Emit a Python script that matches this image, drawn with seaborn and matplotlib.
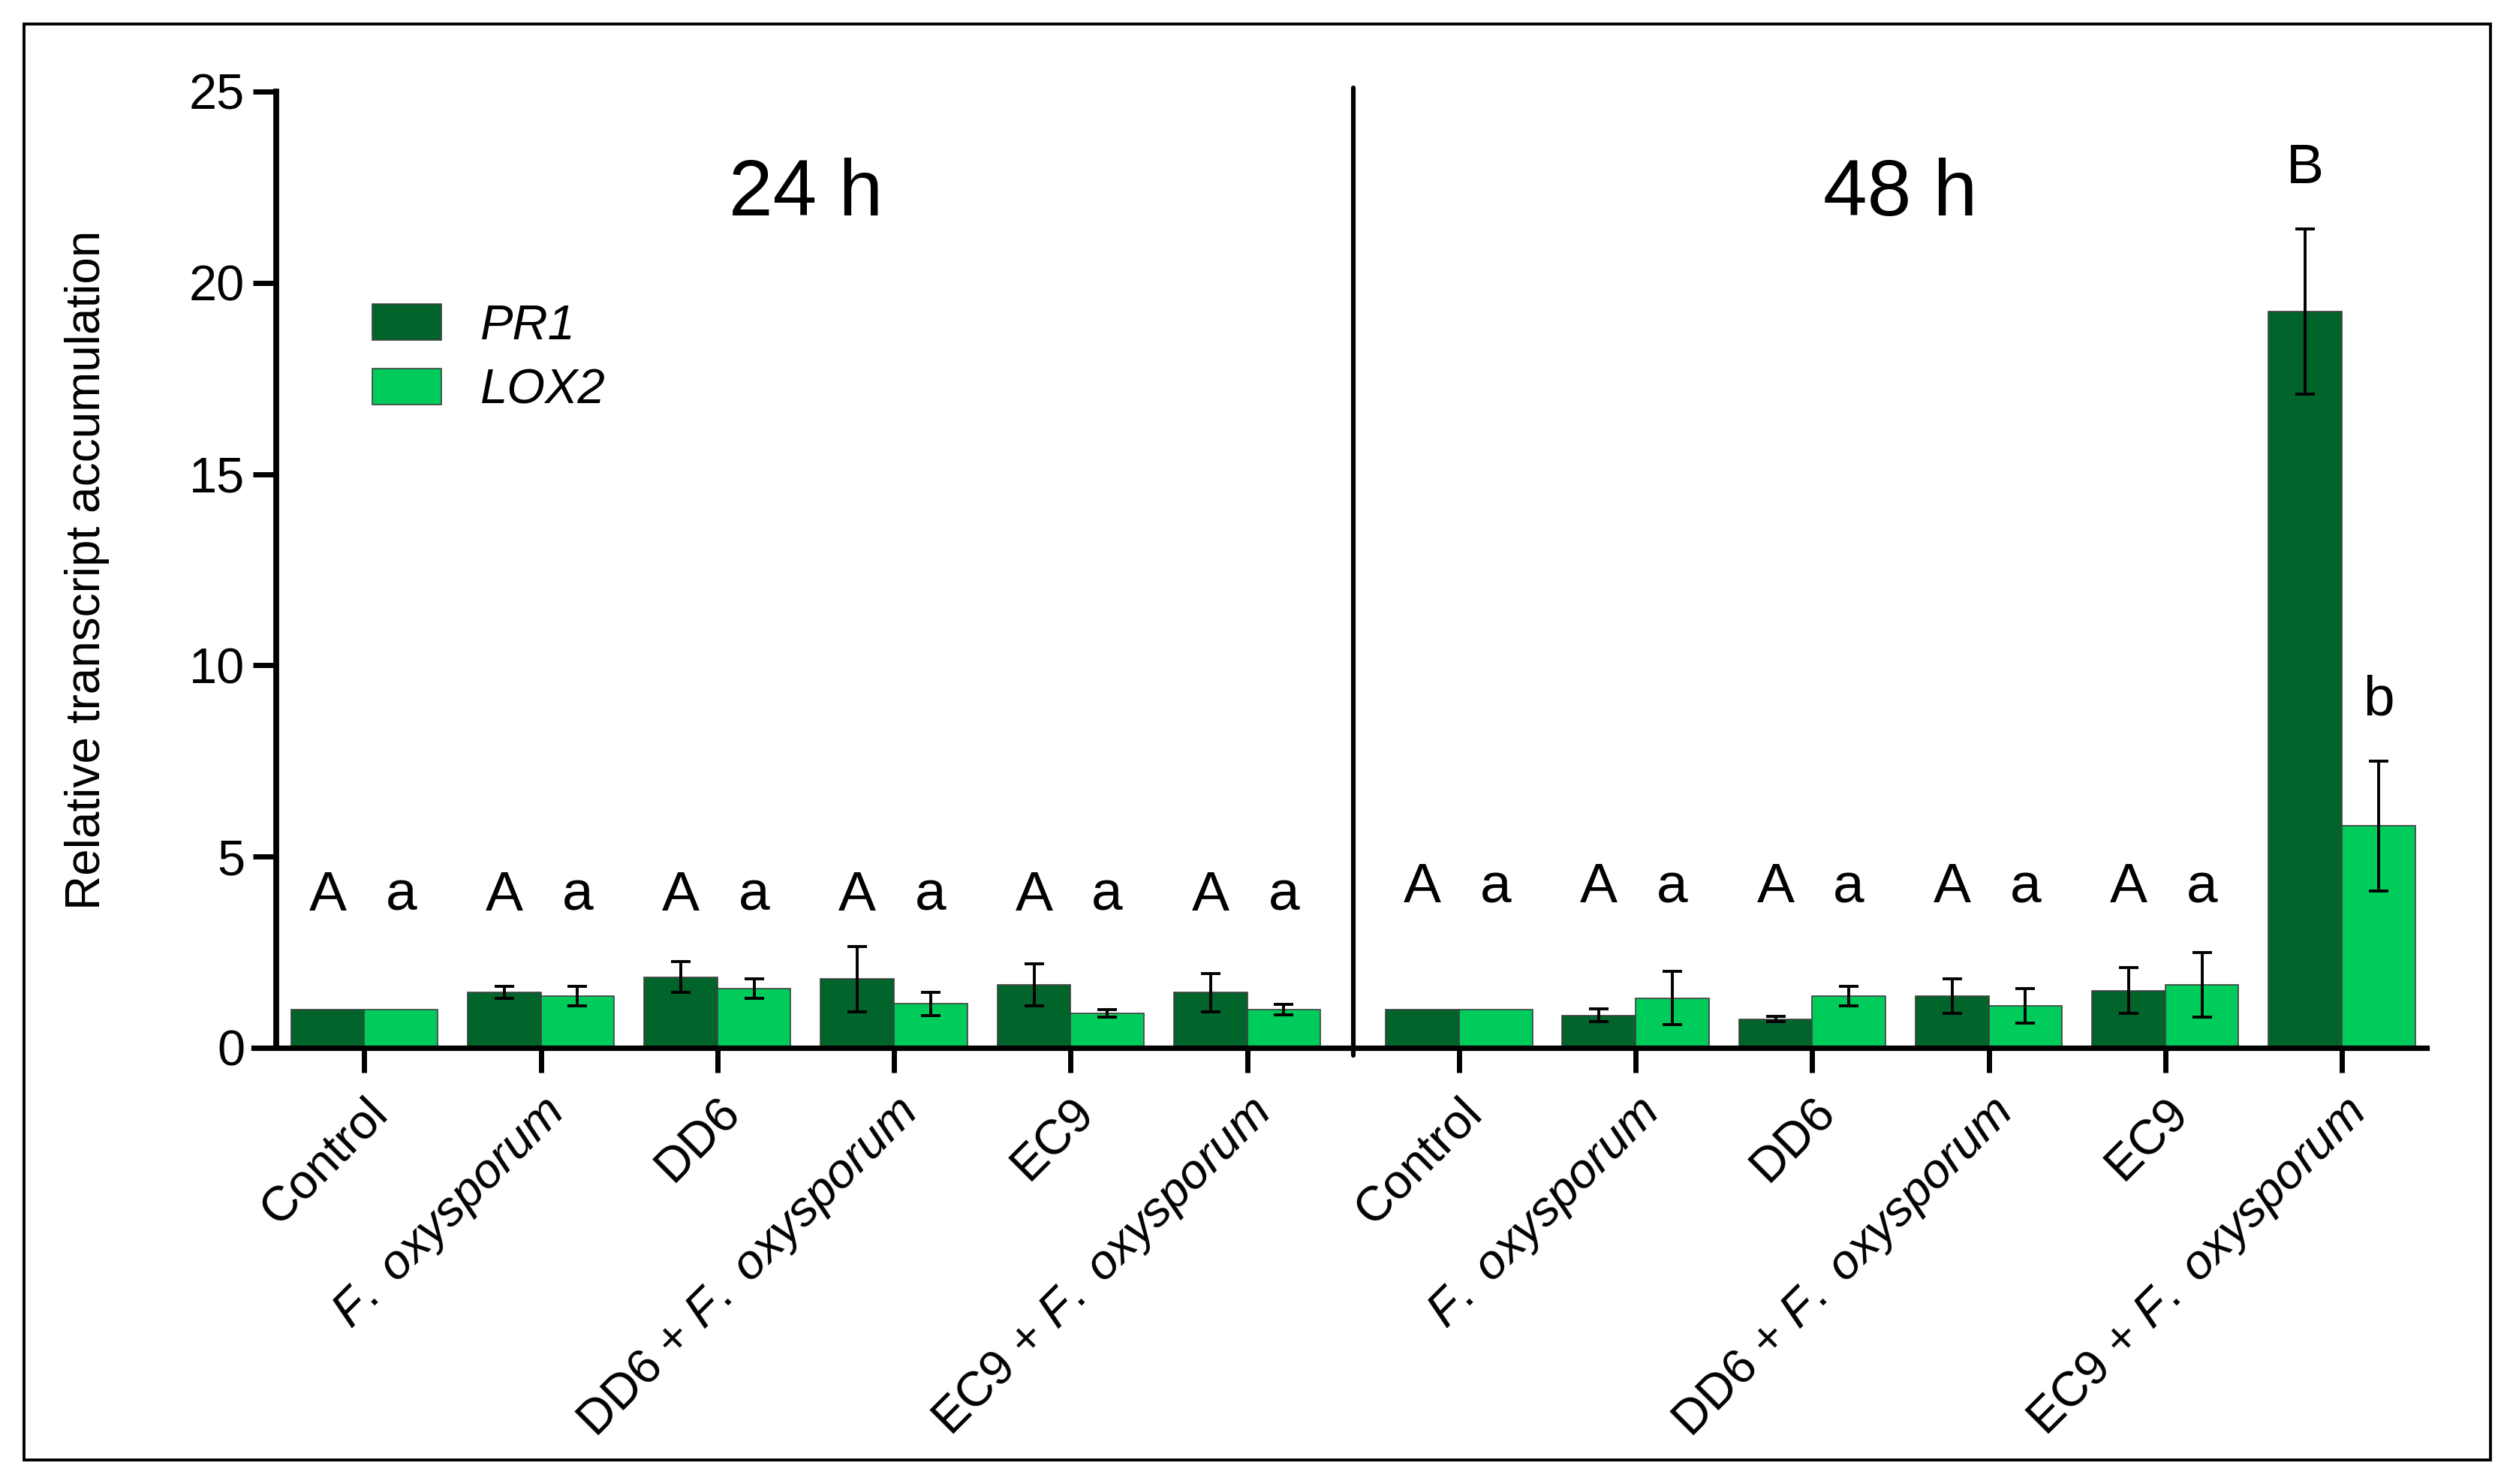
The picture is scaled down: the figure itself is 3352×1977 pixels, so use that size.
import numpy as np
import pandas as pd
import matplotlib
matplotlib.use("Agg")
import matplotlib.pyplot as plt
import seaborn as sns
from matplotlib.patches import Rectangle

treatments = ["Control", "F. oxysporum", "DD6", "DD6 + F. oxysporum", "EC9", "EC9 + F. oxysporum"]
times = ["24 h", "48 h"]

pr1 = [1.0, 1.45, 1.85, 1.8, 1.65, 1.45,
       1.0, 0.85, 0.75, 1.35, 1.5, 19.25]
pr1_err = [0.0, 0.15, 0.4, 0.85, 0.55, 0.5,
           0.0, 0.17, 0.07, 0.45, 0.6, 2.15]
lox2 = [1.0, 1.35, 1.55, 1.15, 0.9, 1.0,
        1.0, 1.3, 1.35, 1.1, 1.65, 5.8]
lox2_err = [0.0, 0.25, 0.25, 0.3, 0.1, 0.13,
            0.0, 0.7, 0.25, 0.45, 0.85, 1.7]
pr1_letters = ["A"] * 11 + ["B"]
lox2_letters = ["a"] * 11 + ["b"]

dark = "#01652B"
light = "#00CC5C"

# bar groups: 24 h at 0..5, 48 h shifted a bit to leave a gap
positions = [i for i in range(6)] + [i + 6.2 for i in range(6)]

tick_labels = []
for t in times:
    for tr in treatments:
        if "F. oxysporum" in tr:
            tick_labels.append(tr.replace("F. oxysporum", r"$\mathit{F.\ oxysporum}$"))
        else:
            tick_labels.append(tr)

df = pd.DataFrame({
    "pos": positions * 2,
    "gene": ["PR1"] * 12 + ["LOX2"] * 12,
    "value": pr1 + lox2,
    "err": pr1_err + lox2_err,
    "letter": pr1_letters + lox2_letters,
})

sns.set_style("ticks")
plt.rcParams["font.family"] = ["Liberation Sans", "DejaVu Sans"]
plt.rcParams["mathtext.fontset"] = "custom"
plt.rcParams["mathtext.rm"] = "Liberation Sans"
plt.rcParams["mathtext.it"] = "Liberation Sans:italic"
for k in ["text.color", "axes.labelcolor", "xtick.color", "ytick.color", "axes.edgecolor"]:
    plt.rcParams[k] = "black"

fig = plt.figure(figsize=(16.76, 9.885), dpi=200)
ax = fig.add_axes([0.1008, 0.2939, 0.8637, 0.6444])

sns.barplot(data=df, x="pos", y="value", hue="gene", native_scale=True,
            palette=[dark, light], saturation=1, width=0.83, errorbar=None,
            edgecolor="#404040", linewidth=0.6, ax=ax)

# error bars and letters from the bar containers
for cont, gene in zip(ax.containers, ["PR1", "LOX2"]):
    sub = df[df["gene"] == gene].sort_values("pos")
    for bar, (_, row) in zip(cont, sub.iterrows()):
        xc = bar.get_x() + bar.get_width() / 2
        if row["err"] > 0:
            ax.errorbar(xc, row["value"], yerr=row["err"], fmt="none",
                        ecolor="black", elinewidth=1.4, capsize=4.8, capthick=1.4, zorder=4)
        if row["letter"] in ("B", "b"):
            ly = row["value"] + row["err"] + 1.2
        elif row["pos"] > 5.5:
            ly = 3.8
        else:
            ly = 3.6
        ax.text(xc, ly, row["letter"], ha="center", va="baseline", fontsize=27)

ax.set_xlim(-0.627, 11.68)
ax.set_ylim(0, 25)
ax.set_yticks([0, 5, 10, 15, 20, 25])
ax.set_xticks(positions)
ax.set_xticklabels(tick_labels, rotation=45, ha="right", va="top",
                   rotation_mode="anchor", fontsize=23.5)
ax.tick_params(axis="y", labelsize=24, width=2.5, length=11, pad=4)
ax.tick_params(axis="x", width=2.5, length=12, pad=8)
ax.set_xlabel("")
ax.set_ylabel("Relative transcript accumulation", fontsize=23, labelpad=38)

sns.despine(ax=ax)
ax.spines["left"].set_position(("axes", 0.0103))
ax.spines["left"].set_linewidth(2.8)
ax.spines["bottom"].set_linewidth(2.6)

# divider between time points
mid = (positions[5] + positions[6]) / 2
ax.plot([mid, mid], [-0.2, 25.1], color="black", lw=2.2, clip_on=False, zorder=5)

ax.text(np.mean(positions[:6]), 22.3, times[0], ha="center", va="center", fontsize=38)
ax.text(np.mean(positions[6:]), 22.3, times[1], ha="center", va="center", fontsize=38)

leg = ax.legend(loc="upper left", bbox_to_anchor=(0.0547, 0.778), frameon=False,
                fontsize=23.5, handlelength=1.4, handleheight=0.75, handletextpad=0.8,
                labelspacing=0.4, borderpad=0, borderaxespad=0)
for txt in leg.get_texts():
    txt.set_fontstyle("italic")

fig.add_artist(Rectangle((0.0095, 0.0162), 0.9804, 0.9676, transform=fig.transFigure,
                         fill=False, edgecolor="black", linewidth=1.4))

fig.savefig("out.png", dpi=200)
